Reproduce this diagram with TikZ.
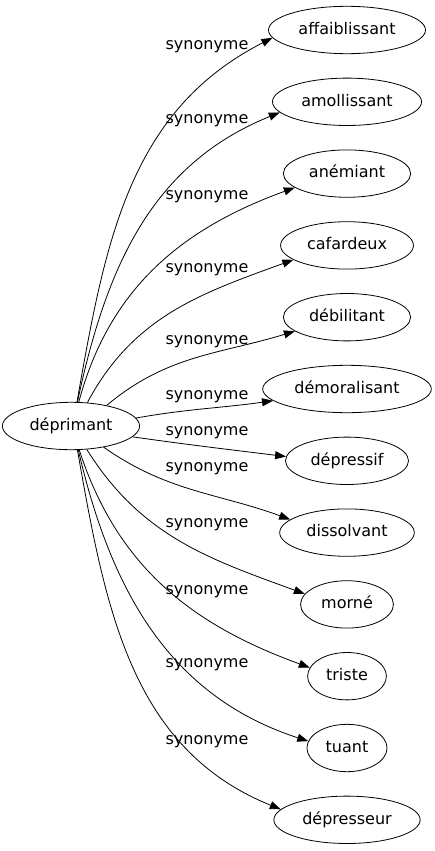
\documentclass[tikz,border=0pt]{standalone}
\usepackage{fontspec}
\setmainfont{DejaVu Sans}
\usetikzlibrary{shapes.geometric,arrows.meta}
\begin{document}
\begin{tikzpicture}[x=1pt,y=1pt, line width=0.8pt,
    parola/.style={draw, ellipse, inner xsep=7pt, inner ysep=9pt,
      text height=12pt, text depth=3.5pt, font=\fontsize{16}{19}\selectfont},
    etichetta/.style={anchor=base, font=\fontsize{16}{19}\selectfont},
    freccia/.style={-{Triangle[length=11pt,width=8pt]}}]
    \useasboundingbox (0,0) rectangle (435,-851);

    % Nodo centrale
    \node[parola] (deprimant) at (71,-426) {déprimant};

    % Sinonimi a destra
    \foreach \nome/\testo [count=\i from 0] in {affaiblissant/affaiblissant,
        amollissant/amollissant, anemiant/anémiant, cafardeux/cafardeux,
        debilitant/débilitant, demoralisant/démoralisant, depressif/dépressif,
        dissolvant/dissolvant, morne/morné, triste/triste, tuant/tuant,
        depresseur/dépresseur}
      \node[parola] (\nome) at (347,{-30-71.8*\i}) {\testo};

    % Etichette degli archi
    \foreach \yb [count=\i] in {49,123,199,272,344,399,435,471,527,594,667,744}
      \node[etichetta] (l\i) at (207,-\yb) {synonyme};

    % Archi
    \foreach \t/\sa/\so/\ea/\ei in {affaiblissant/76/80/186/207,
        amollissant/75/78/189/202, anemiant/72/75/195/200,
        cafardeux/55/62/195/200, debilitant/30/40/195/197,
        demoralisant/7/10/189/188, depressif/-10/-8/176/173,
        dissolvant/-33/-35/167/160, morne/-56/-58/166/160,
        triste/-71/-72/167/160, tuant/-73/-77/170/162,
        depresseur/-75/-80/171/158}
      \draw[freccia] (deprimant.\sa) to[out=\so,in=\ei] (\t.\ea);
\end{tikzpicture}
\end{document}
